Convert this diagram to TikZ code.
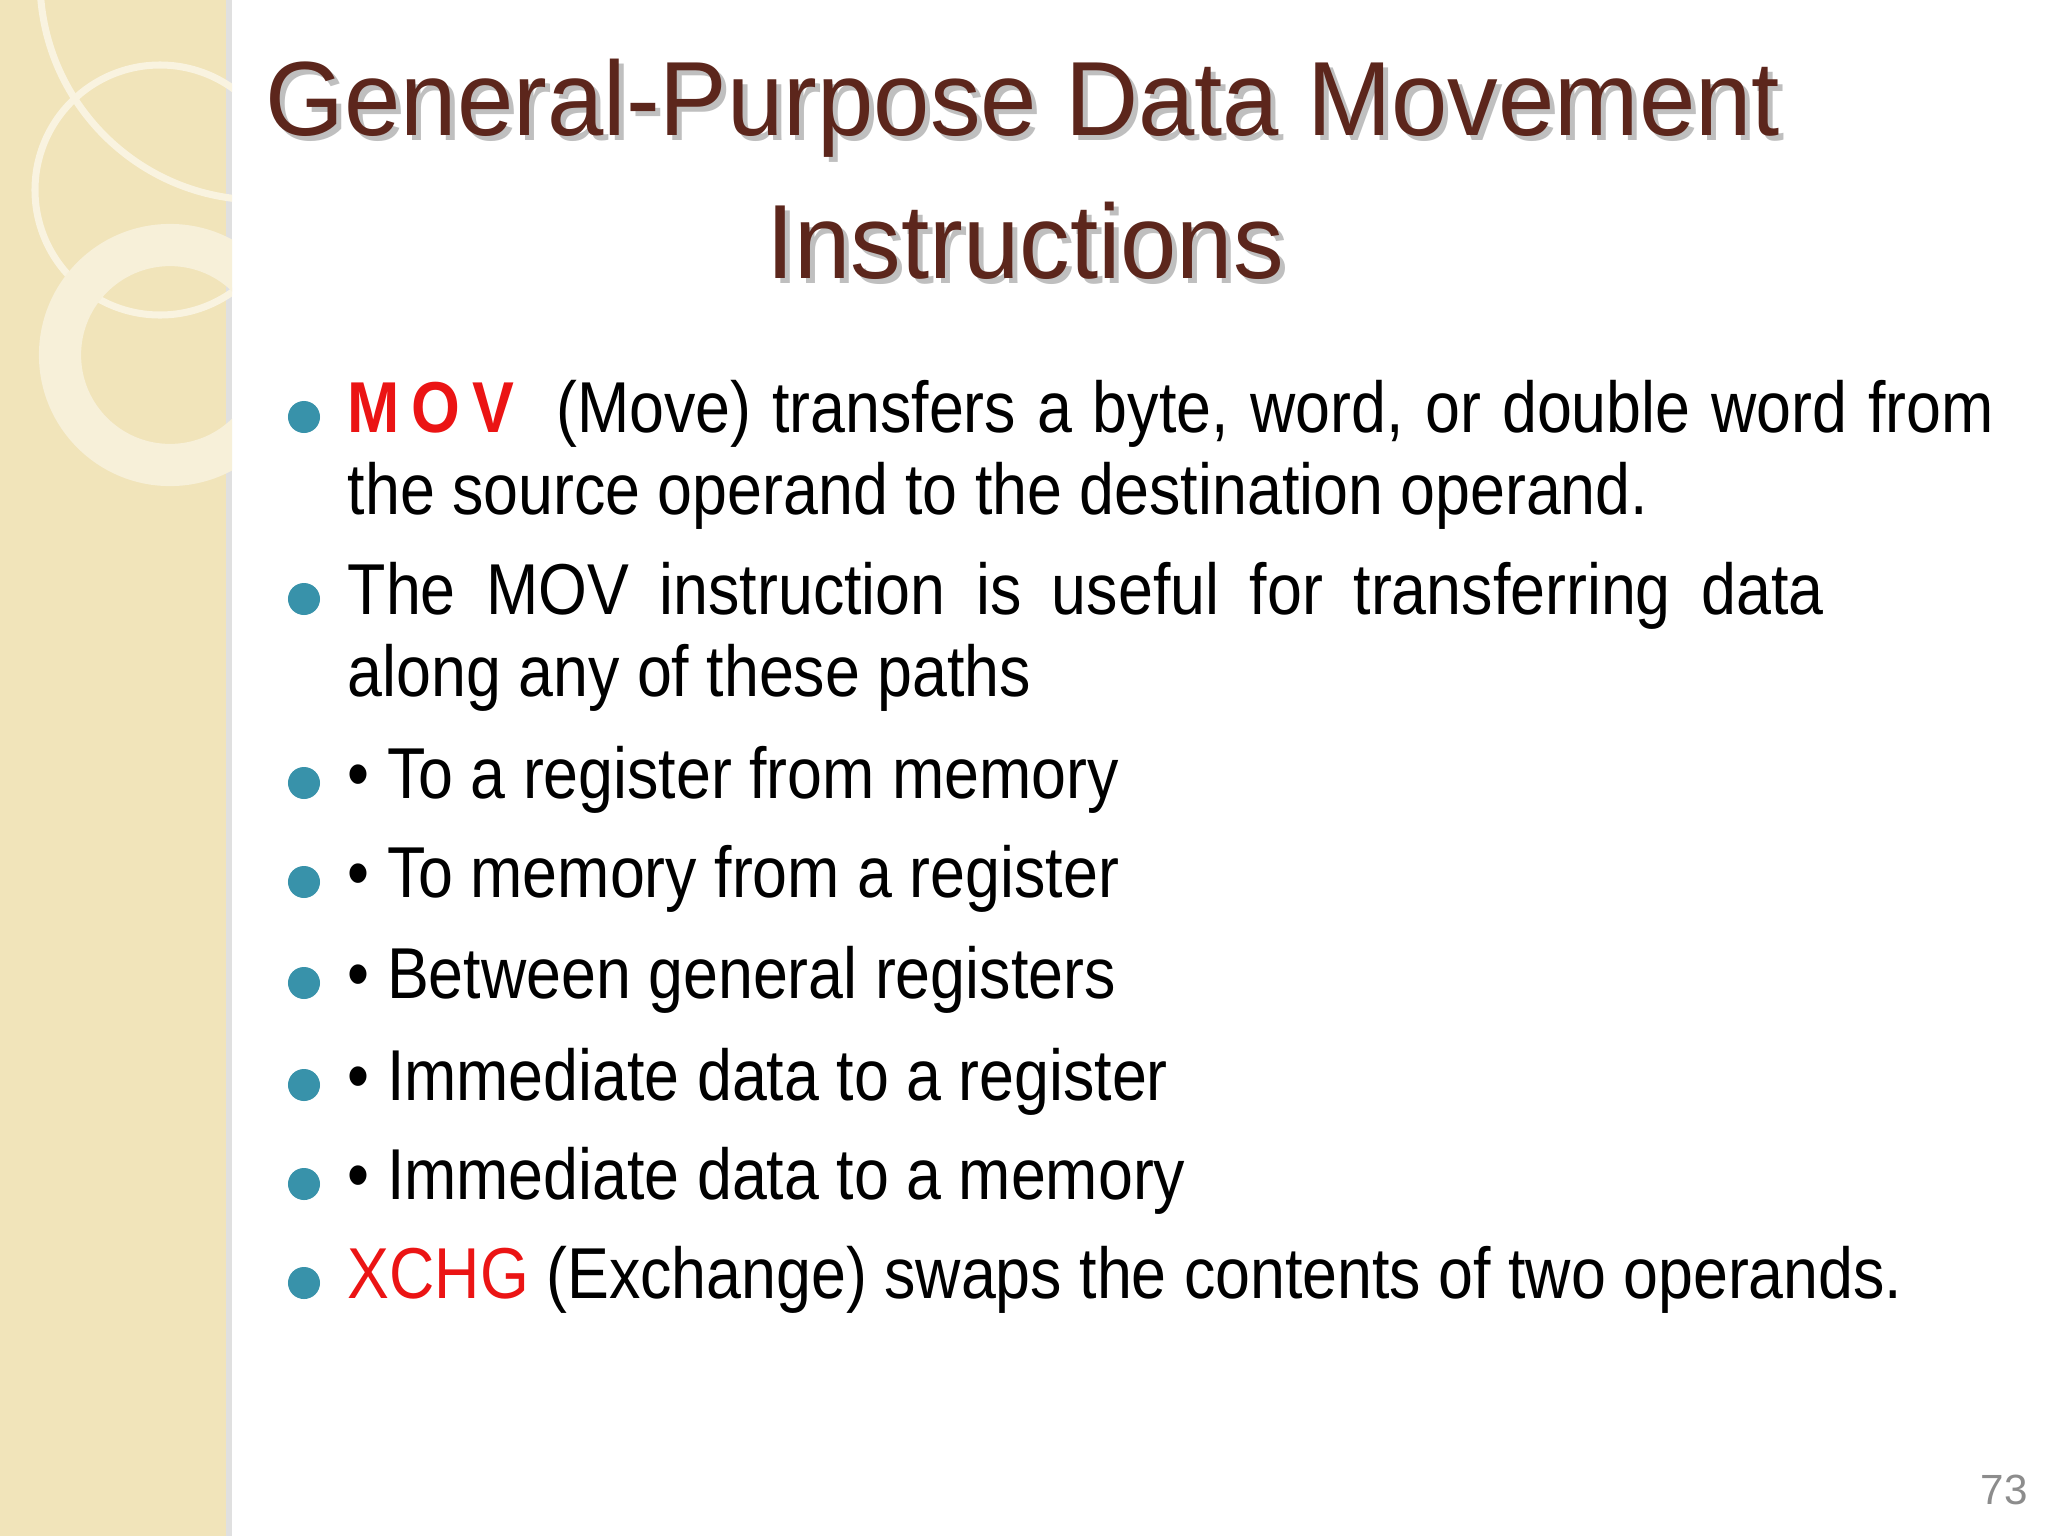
\documentclass[tikz,border=0pt]{standalone}
\usepackage{fontspec}
\setmainfont{Liberation Sans}
\newfontfamily\narrowfont[FakeStretch=0.87]{Liberation Sans}
\newfontfamily\titlefont[FakeStretch=0.96]{Liberation Sans}
\begin{document}
\begin{tikzpicture}[x=0.01cm,y=-0.01cm,
  body/.style={anchor=base west,inner sep=0pt,font=\narrowfont\fontsize{20.5}{24}\selectfont,text=black},
  dot/.style={circle,fill=bulletblue,inner sep=0pt,minimum size=0.32cm},
  ttl/.style={font=\titlefont\fontsize{30}{34}\selectfont,text=titlebrown}]
\definecolor{bulletblue}{RGB}{56,146,170}
\definecolor{titlebrown}{RGB}{92,38,28}
\definecolor{strip}{RGB}{241,228,186}
\definecolor{movred}{RGB}{235,20,20}
\useasboundingbox (0,0) rectangle (2048,1536);
\fill[white] (0,0) rectangle (2048,1536);
\fill[strip] (0,0) rectangle (229,1536);
\fill[black!12] (226,0) rectangle (232,1536);
% decorative rings
\begin{scope}
\clip (0,0) rectangle (232,1536);
\draw[white!55!strip,line width=2pt] (160,190) circle (125);
\draw[white!45!strip,line width=12pt] (170,355) circle (110);
\draw[white!55!strip,line width=2pt] (260,-20) circle (220);
\end{scope}
% title
\node[ttl,text=black!25] (t1s) at (1028,113) {General-Purpose Data Movement};
\node[ttl] (t1) at (1023,108) {General-Purpose Data Movement};
\node[ttl,text=black!25] (t2s) at (1030,246) {Instructions};
\node[ttl] (t2) at (1025,241) {Instructions};
% bullets
\foreach \n/\y in {1/417,3/599,5/783,6/882,7/983,8/1085,9/1184,10/1283}
  \node[dot] (d\n) at (304,\y) {};
\node[body] (l1) at (347,432) {\makebox[16.45cm][s]{\textcolor{movred}{\textbf{M\,O\,V}} \ (Move) transfers a byte, word, or double word from}};
\node[body] (l2) at (347,514) {the source operand to the destination operand.};
\node[body] (l3) at (347,614) {\makebox[14.75cm][s]{The MOV instruction is useful for transferring data}};
\node[body] (l4) at (347,696) {along any of these paths};
\node[body] (l5) at (347,798) {• To a register from memory};
\node[body] (l6) at (347,897) {• To memory from a register};
\node[body] (l7) at (347,998) {• Between general registers};
\node[body] (l8) at (347,1100) {• Immediate data to a register};
\node[body] (l9) at (347,1199) {• Immediate data to a memory};
\node[body] (l10) at (347,1298) {\textcolor{movred}{XCHG} (Exchange) swaps the contents of two operands.};
\node[font=\fontsize{12}{14}\selectfont,text=black!45] (pg) at (2004,1490) {73};
\end{tikzpicture}
\end{document}
